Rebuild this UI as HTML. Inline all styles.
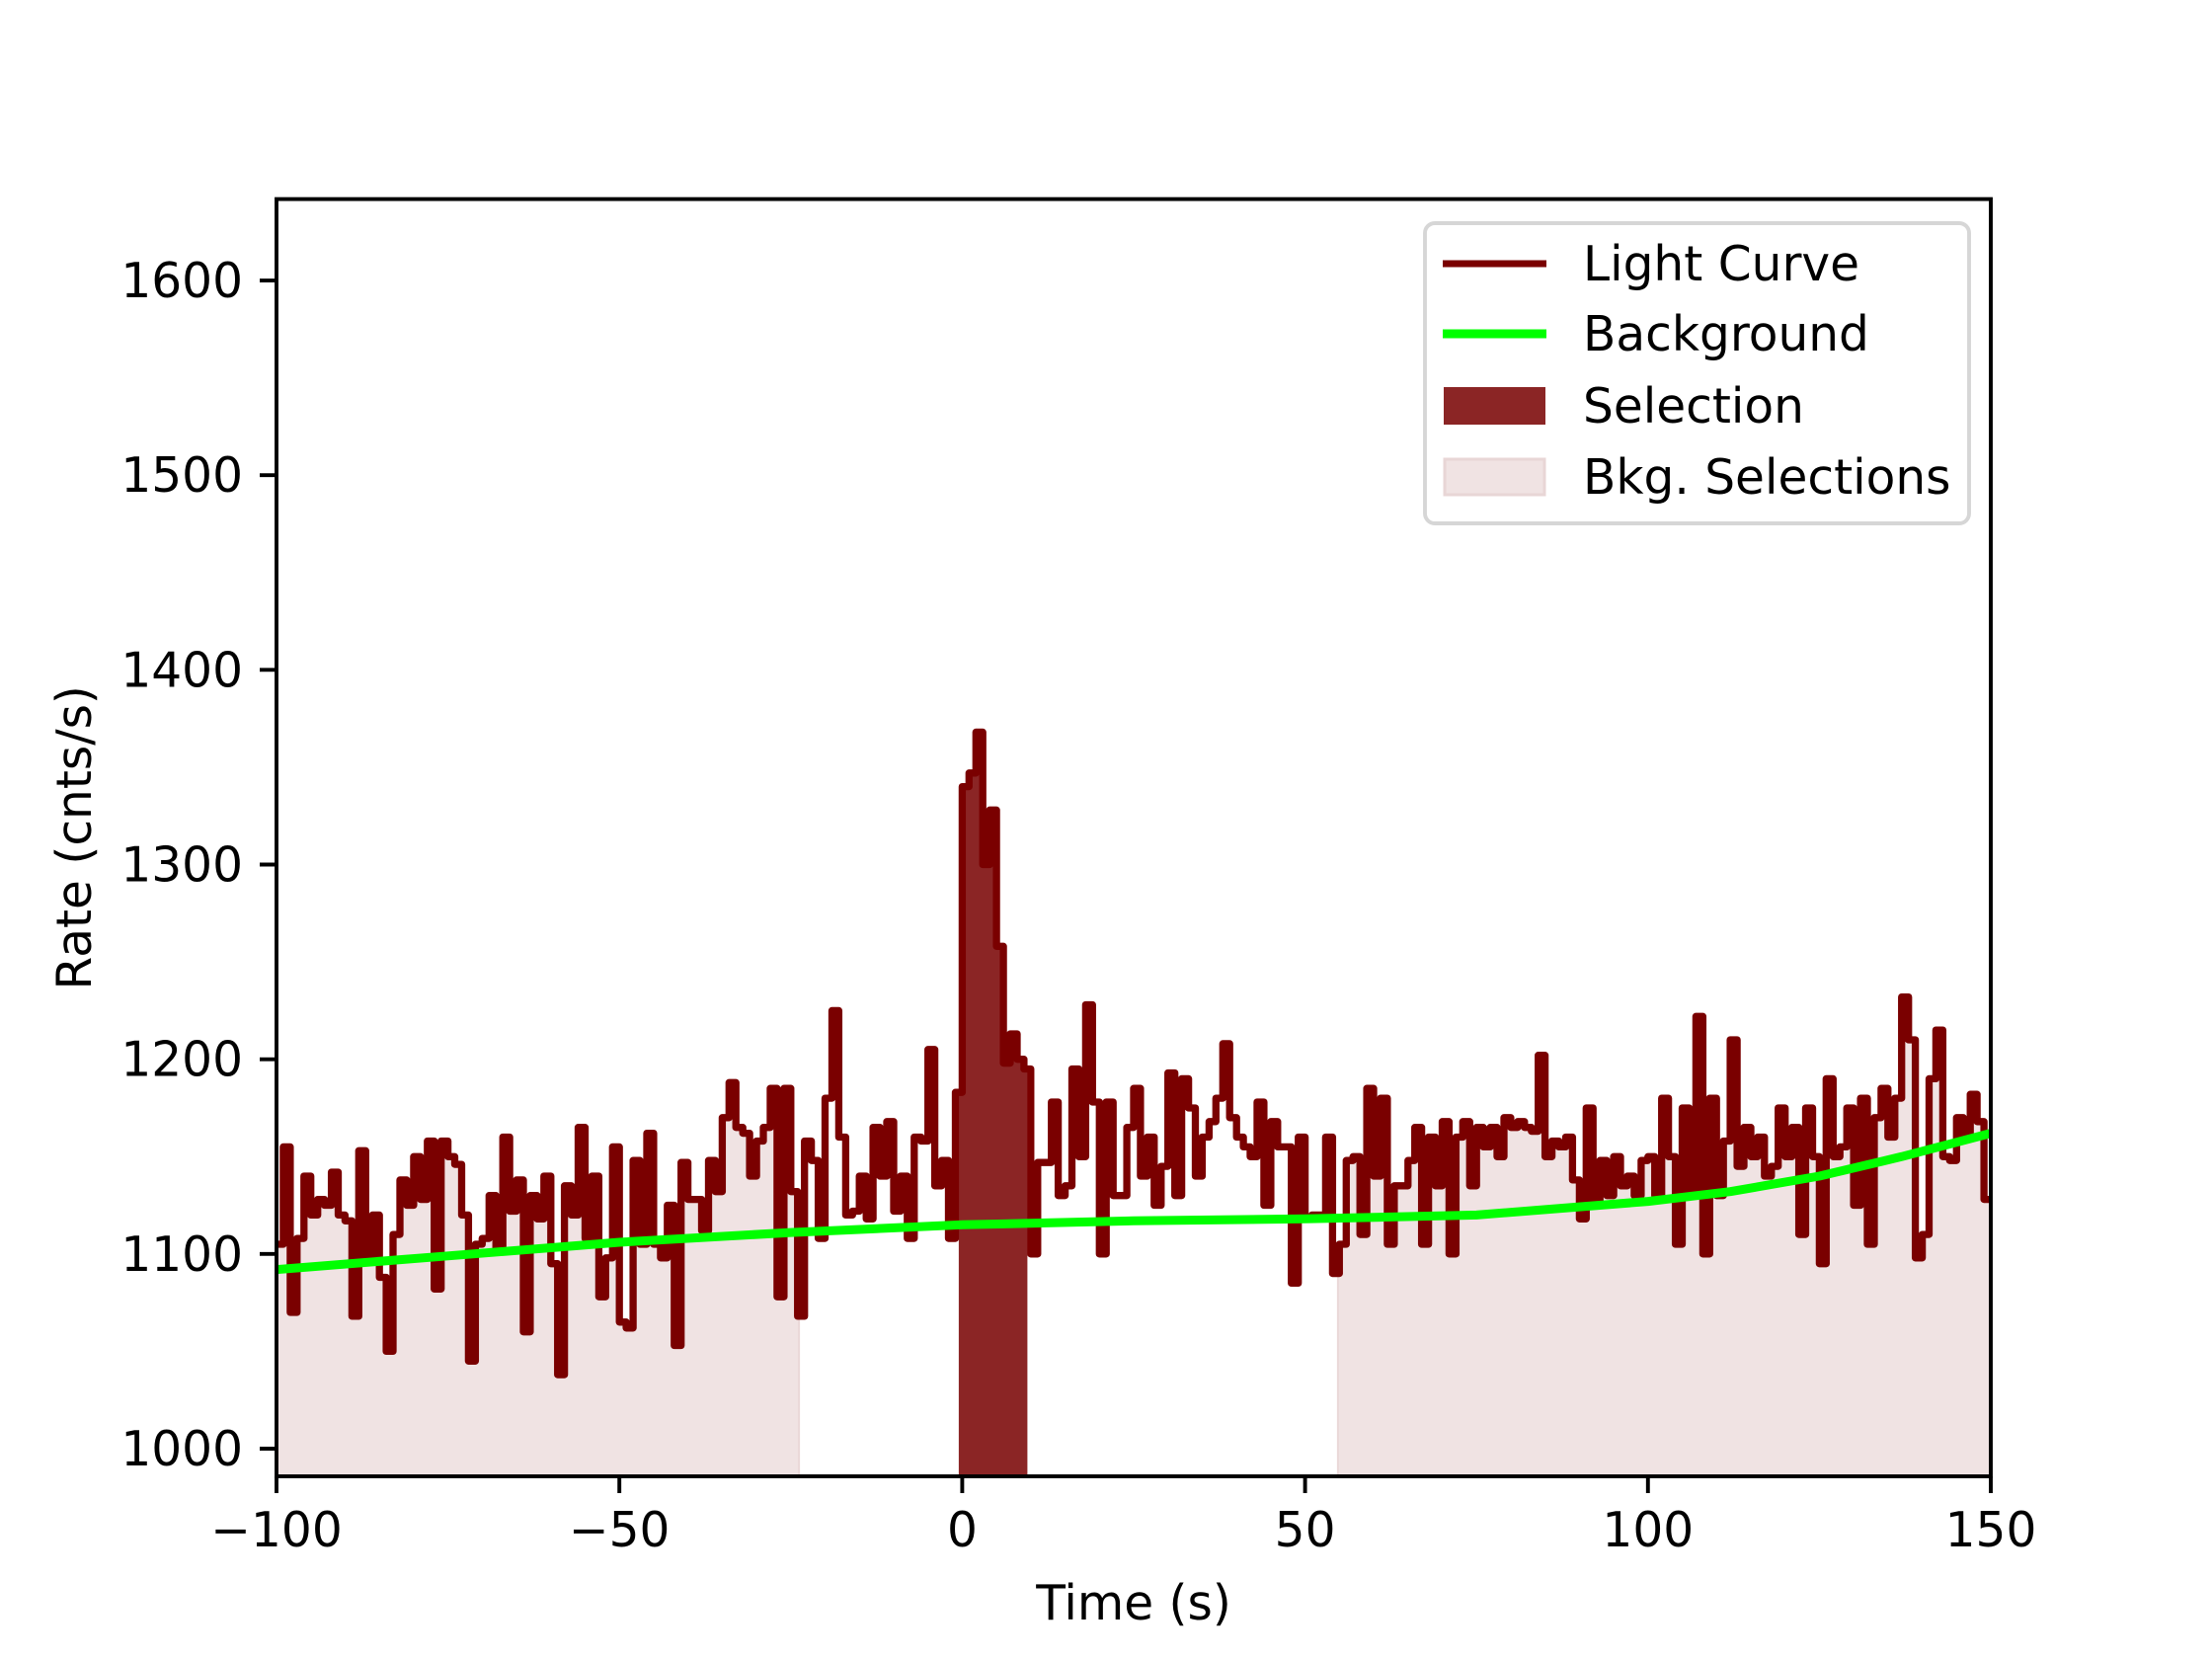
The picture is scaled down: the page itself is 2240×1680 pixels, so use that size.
<!DOCTYPE html>
<html><head><meta charset="utf-8"><style>
html,body{margin:0;padding:0;background:#fff;}
svg{display:block;font-family:"DejaVu Sans","Liberation Sans",sans-serif;}
</style></head><body>
<svg id="chart" width="2240" height="1680" viewBox="0 0 2240 1680" xmlns="http://www.w3.org/2000/svg">
<rect width="2240" height="1680" fill="#fff"/>
<g id="plot"></g>
</svg>
<script>
const timeStart = -100;
const binWidth = 1;
const rates = [
1105,1155,1070,1108,1140,1120,1128,1125,1142,1120,1117,1068,1153,1097,1120,1088,1050,1110,1138,1125,1150,1128,1158,1082,1158,
1150,1146,1120,1045,1105,1108,1130,1103,1160,1122,1138,1060,1130,1118,1140,1095,1038,1135,1120,1165,1108,1140,1078,1098,1155,
1065,1062,1148,1105,1162,1105,1098,1125,1053,1147,1128,1128,1112,1148,1132,1170,1188,1165,1162,1140,1158,1165,1185,1078,1185,
1132,1068,1158,1148,1108,1180,1225,1160,1120,1122,1140,1118,1165,1140,1168,1122,1140,1108,1160,1158,1205,1135,1148,1108,1183,
1340,1347,1368,1300,1328,1258,1198,1213,1200,1195,
1100,1147,1147,1178,1130,1135,1195,1150,1228,1178,1100,1178,1130,1130,1165,1185,1140,1160,1125,1145,1193,1130,1190,1175,1140,
1160,1168,1180,1208,1170,1160,1155,1150,1178,1125,1168,1155,1155,1085,1160,1118,1120,1120,1160,1090,1105,1148,1150,1110,1185,
1140,1180,1105,1135,1135,1148,1165,1105,1160,1135,1168,1100,1160,1168,1135,1165,1155,1165,1150,1170,1165,1168,1165,1163,1202,
1150,1158,1155,1160,1138,1118,1175,1125,1148,1130,1150,1135,1140,1130,1148,1150,1130,1180,1150,1105,1175,1130,1222,1100,1180,
1130,1158,1210,1145,1165,1150,1160,1140,1145,1175,1150,1165,1110,1175,1150,1095,1190,1150,1155,1175,1125,1180,1105,1170,1185,
1160,1180,1232,1210,1098,1110,1190,1215,1150,1148,1170,1160,1182,1168,1128
];
const bkgTimes = [-100,-75,-50,-25,0,25,50,75,100,112,125,137,150];
const bkgRates = [1092,1099,1106,1111,1115,1117,1118,1120,1127,1132,1140,1150,1162];
const bkgSelections = [[-100,-23.8],[54.8,150]];
const selection = [-0.5,9.5];
const xTicks = [-100,-50,0,50,100,150];
const xTickLabels = ["\u2212100","\u221250","0","50","100","150"];
const yTicks = [1000,1100,1200,1300,1400,1500,1600];
const yTickLabels = ["1000","1100","1200","1300","1400","1500","1600"];

const L=280,R=2016,T=201.6,B=1495;
const xMin=-100,xMax=150,yMin=985.8,yMax=1641.8;
function X(t){return L+(t-xMin)/(xMax-xMin)*(R-L);}
function Y(v){return B-(v-yMin)/(yMax-yMin)*(B-T);}
const NS="http://www.w3.org/2000/svg";
const g=document.getElementById('plot');
function el(tag,attrs,parent){const e=document.createElementNS(NS,tag);for(const k in attrs)e.setAttribute(k,attrs[k]);(parent||g).appendChild(e);return e;}

const clip=el('clipPath',{id:'clip'});
el('rect',{x:L,y:T,width:R-L,height:B-T},clip);
const inner=el('g',{'clip-path':'url(#clip)'});

function rateAt(t){let i=Math.floor((t-timeStart)/binWidth);i=Math.max(0,Math.min(rates.length-1,i));return rates[i];}
function areaPath(t0,t1){
  let d='M'+X(t0).toFixed(1)+','+B+'L'+X(t0).toFixed(1)+','+Y(rateAt(t0)).toFixed(1);
  let t=timeStart+Math.floor((t0-timeStart)/binWidth+1)*binWidth;
  while(t<t1){
    d+='L'+X(t).toFixed(1)+','+Y(rateAt(t-binWidth/2)).toFixed(1)+'L'+X(t).toFixed(1)+','+Y(rateAt(t+binWidth/2)).toFixed(1);
    t+=binWidth;
  }
  d+='L'+X(t1).toFixed(1)+','+Y(rateAt(t1-0.001)).toFixed(1)+'L'+X(t1).toFixed(1)+','+B+'Z';
  return d;
}
bkgSelections.forEach(function(s){
  const r=el('path',{d:areaPath(s[0],s[1]),fill:'#f0e3e3',stroke:'#ead8d8','stroke-width':2},inner);
  
  
});
const sel=el('path',{d:areaPath(selection[0],selection[1]),fill:'#8b2525'},inner);



let d='';
rates.forEach(function(v,i){
  const t0=timeStart+i*binWidth,t1=t0+binWidth;
  d+=(i===0?'M':'L')+X(t0).toFixed(1)+','+Y(v).toFixed(1)+'L'+X(t1).toFixed(1)+','+Y(v).toFixed(1);
});
const lc=el('path',{d:d,fill:'none',stroke:'#7a0000','stroke-width':7.3,'stroke-linejoin':'round','stroke-linecap':'round'},inner);



let bd='';
bkgTimes.forEach(function(t,i){bd+=(i===0?'M':'L')+X(t).toFixed(1)+','+Y(bkgRates[i]).toFixed(1);});
const bl=el('path',{d:bd,fill:'none',stroke:'#00ff00','stroke-width':9,'stroke-linejoin':'round'},inner);



const frame=el('rect',{x:L,y:T,width:R-L,height:B-T,fill:'none',stroke:'#000','stroke-width':3.9});



xTicks.forEach(function(t,i){
  const tk=el('line',{x1:X(t),x2:X(t),y1:B,y2:B+17,stroke:'#000','stroke-width':3.9});
  
  
  const tx=el('text',{x:X(t),y:1566,'font-size':48.6,'text-anchor':'middle',fill:'#000'});
  tx.textContent=xTickLabels[i];
  
  
});
yTicks.forEach(function(v,i){
  const tk=el('line',{x1:L-17,x2:L,y1:Y(v),y2:Y(v),stroke:'#000','stroke-width':3.9});
  
  
  const tx=el('text',{x:246,y:Y(v)+17,'font-size':48.6,'text-anchor':'end',fill:'#000'});
  tx.textContent=yTickLabels[i];
  
  
});
const xl=el('text',{x:(L+R)/2,y:1640,'font-size':48.6,'text-anchor':'middle',fill:'#000'});
xl.textContent='Time (s)';


const yl=el('text',{x:0,y:0,'font-size':48.6,'text-anchor':'middle',fill:'#000',transform:'translate(92,'+((T+B)/2)+') rotate(-90)'});
yl.textContent='Rate (cnts/s)';



// legend
const lg=el('g',{});


el('rect',{x:1443,y:226,width:551,height:304,rx:10,fill:'#fff','fill-opacity':0.8,stroke:'#d6d6d6','stroke-width':3.9},lg);
const rows=[267,338,411,483];
const labels=['Light Curve','Background','Selection','Bkg. Selections'];
const l1=el('line',{x1:1461,x2:1566,y1:rows[0],y2:rows[0],stroke:'#7a0000','stroke-width':7},lg);


const l2=el('line',{x1:1461,x2:1566,y1:rows[1],y2:rows[1],stroke:'#00ff00','stroke-width':9},lg);


const l3=el('rect',{x:1462,y:rows[2]-19,width:103,height:38,fill:'#8b2525'},lg);


const l4=el('rect',{x:1463,y:rows[3]-18,width:101,height:36,fill:'#f0e3e3',stroke:'#e8d6d6','stroke-width':3},lg);


labels.forEach(function(s,i){
  const t=el('text',{x:1603,y:rows[i]+17,'font-size':48.6,fill:'#000'},lg);
  t.textContent=s;
  
  
});
</script>
</body></html>
